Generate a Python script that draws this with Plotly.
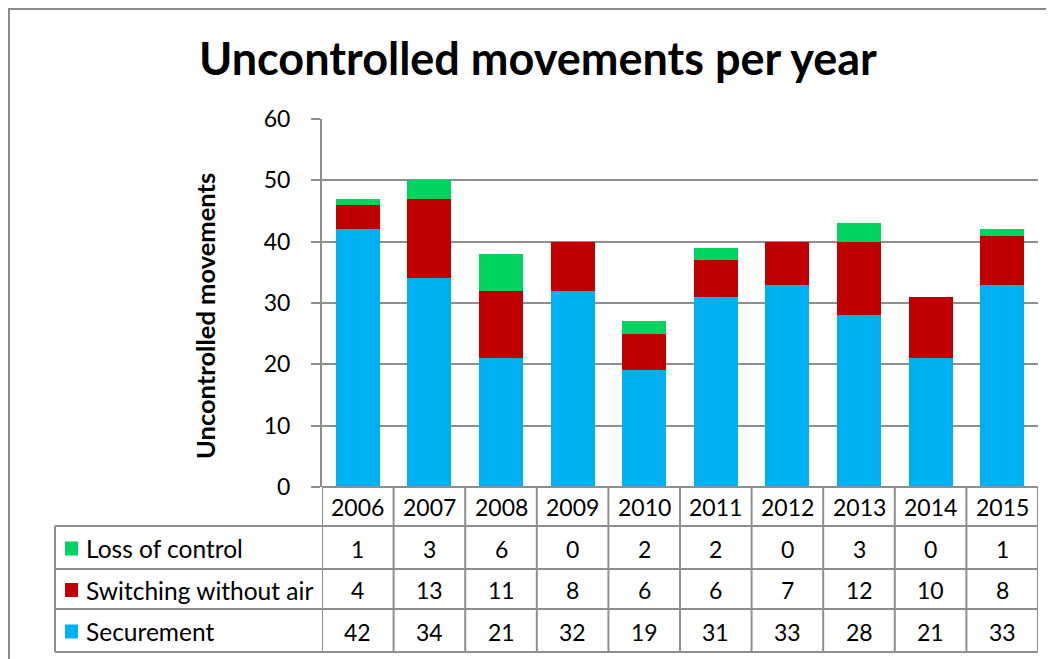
import plotly.graph_objects as go

years = ["2006", "2007", "2008", "2009", "2010", "2011", "2012", "2013", "2014", "2015"]
loss_of_control = [1, 3, 6, 0, 2, 2, 0, 3, 0, 1]
switching_without_air = [4, 13, 11, 8, 6, 6, 7, 12, 10, 8]
securement = [42, 34, 21, 32, 19, 31, 33, 28, 21, 33]

title_text = "Uncontrolled movements per year"
y_title = "Uncontrolled movements"

C_GREEN = "#00D35F"
C_RED = "#C00000"
C_BLUE = "#00B0F0"
GRID = "#8E8E8E"
FONT = "Lato, 'Open Sans', sans-serif"

# page body margin compensation
OX, OY = 8, 8
W, H = 1054 - OX, 659 - OY


def px(x):
    return (x - OX) / W


def py(y):
    return 1 - (y - OY) / H


fig = go.Figure()
fig.add_trace(go.Bar(x=years, y=securement, name="Securement", marker=dict(color=C_BLUE, line=dict(width=0))))
fig.add_trace(go.Bar(x=years, y=switching_without_air, name="Switching without air", marker=dict(color=C_RED, line=dict(width=0))))
fig.add_trace(go.Bar(x=years, y=loss_of_control, name="Loss of control", marker=dict(color=C_GREEN, line=dict(width=0))))

# plot area in reference pixels
PL, PR, PT, PB = 322, 1038, 119, 487
ROW_Y = [487, 526, 569, 609, 652]
TABLE_LEFT = 55

shapes = []
annotations = []

# outer border
shapes.append(dict(type="line", xref="paper", yref="paper", x0=px(9), x1=px(1070), y0=py(9), y1=py(9),
                   line=dict(color="#8A8A8A", width=2)))
shapes.append(dict(type="line", xref="paper", yref="paper", x0=px(9), x1=px(9), y0=py(8), y1=py(680),
                   line=dict(color="#8A8A8A", width=2)))

# table horizontal lines
for i, yy in enumerate(ROW_Y):
    x0 = PL if i == 0 else TABLE_LEFT
    shapes.append(dict(type="line", xref="paper", yref="paper", x0=px(x0), x1=px(PR), y0=py(yy), y1=py(yy),
                       line=dict(color=GRID, width=2)))
# table vertical lines at column boundaries
for k in range(len(years) + 1):
    shapes.append(dict(type="line", xref="x", yref="paper", x0=k - 0.5, x1=k - 0.5, y0=py(ROW_Y[0]), y1=py(ROW_Y[-1]),
                       line=dict(color=GRID, width=2)))
shapes.append(dict(type="line", xref="paper", yref="paper", x0=px(TABLE_LEFT), x1=px(TABLE_LEFT),
                   y0=py(ROW_Y[1]), y1=py(ROW_Y[-1]), line=dict(color=GRID, width=2)))

NUM_SIZE = 23
# header
hy = (ROW_Y[0] + ROW_Y[1]) / 2 + 1
for k, yr in enumerate(years):
    annotations.append(dict(x=k, y=py(hy), xref="x", yref="paper", text=yr, showarrow=False,
                            font=dict(size=NUM_SIZE, color="black", family=FONT), xanchor="center", yanchor="middle"))

rows = [("Loss of control", loss_of_control, C_GREEN),
        ("Switching without air", switching_without_air, C_RED),
        ("Securement", securement, C_BLUE)]
for r, (name, vals, col) in enumerate(rows):
    cy = (ROW_Y[r + 1] + ROW_Y[r + 2]) / 2 + 1
    shapes.append(dict(type="rect", xref="paper", yref="paper", x0=px(65), x1=px(78), y0=py(cy - 7), y1=py(cy + 7),
                       fillcolor=col, line=dict(width=0)))
    annotations.append(dict(x=px(84), y=py(cy), xref="paper", yref="paper", text=name, showarrow=False,
                            font=dict(size=24.5, color="black", family=FONT), xanchor="left", yanchor="middle"))
    for k, v in enumerate(vals):
        annotations.append(dict(x=k, y=py(cy), xref="x", yref="paper", text=str(v), showarrow=False,
                                font=dict(size=NUM_SIZE, color="black", family=FONT), xanchor="center", yanchor="middle"))

# title
annotations.append(dict(x=px(538), y=py(58), xref="paper", yref="paper", text="<b>" + title_text + "</b>",
                        showarrow=False, font=dict(size=45, color="black", family=FONT),
                        xanchor="center", yanchor="middle"))
# y-axis title
annotations.append(dict(x=px(205), y=py(316), xref="paper", yref="paper", text="<b>" + y_title + "</b>",
                        showarrow=False, textangle=-90, font=dict(size=25.5, color="black", family=FONT),
                        xanchor="center", yanchor="middle"))

fig.update_layout(
    template="none",
    width=W, height=H,
    margin=dict(l=0, r=0, t=0, b=0, pad=0, autoexpand=False),
    paper_bgcolor="white", plot_bgcolor="white",
    barmode="stack", bargap=0.385,
    showlegend=False,
    shapes=shapes, annotations=annotations,
    font=dict(family=FONT, color="black"),
    xaxis=dict(domain=[px(PL), px(PR)], range=[-0.5, len(years) - 0.5], type="category",
               showticklabels=False, showgrid=False, zeroline=False, showline=False, ticks="",
               automargin=False),
    yaxis=dict(domain=[py(PB), py(PT)], range=[0, 60], dtick=10, showgrid=True, gridcolor=GRID, gridwidth=2,
               zeroline=True, zerolinecolor=GRID, zerolinewidth=2,
               showline=True, linecolor=GRID, linewidth=2,
               ticks="outside", ticklen=9, tickcolor=GRID, tickwidth=2, automargin=False,
               ticklabelstandoff=16, tickfont=dict(size=NUM_SIZE, color="black", family=FONT)),
)

fig.write_html("out.html")
